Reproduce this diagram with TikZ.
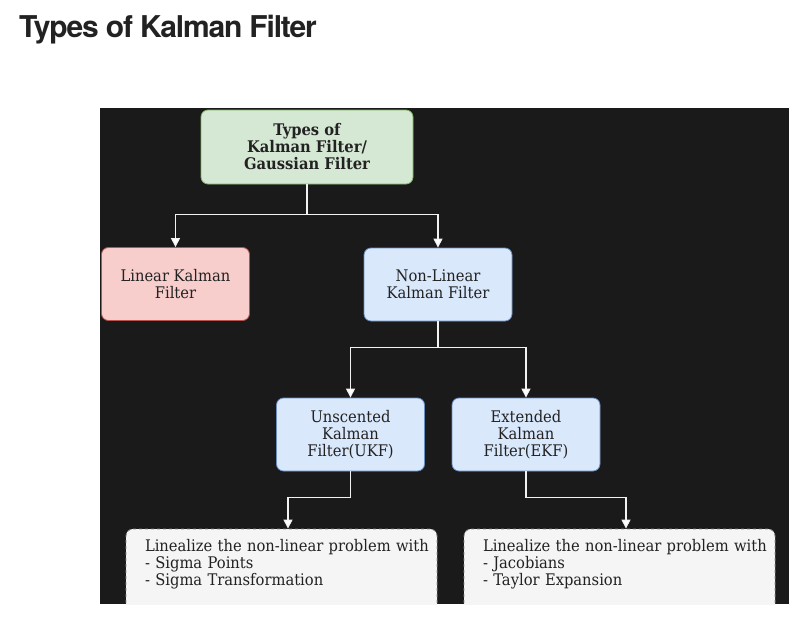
\documentclass[tikz,border=0pt]{standalone}
\usepackage{fontspec}
\usetikzlibrary{arrows.meta}
\setmainfont{DejaVu Serif}[FakeStretch=0.92]
\newfontfamily\headfont{TeX Gyre Heros}[LetterSpace=-4]
\definecolor{boardbg}{HTML}{1A1A1A}
\definecolor{inkdark}{HTML}{222222}
\definecolor{greenfill}{HTML}{D5E8D4}
\definecolor{greenline}{HTML}{82B366}
\definecolor{redfill}{HTML}{F8CECC}
\definecolor{redline}{HTML}{B85450}
\definecolor{bluefill}{HTML}{DAE8FC}
\definecolor{blueline}{HTML}{6C8EBF}
\definecolor{notefill}{HTML}{F5F5F5}
\definecolor{noteline}{HTML}{8A8A8A}
\newcommand{\noteline}[1]{\makebox[\linewidth][l]{#1}}
\tikzset{
	box/.style={draw, rounded corners=7pt, line width=0.8pt, minimum width=148pt,
		minimum height=73pt, align=center, text=inkdark, inner sep=2pt,
		font=\fontsize{16}{17}\selectfont},
	rootbox/.style={box, fill=greenfill, draw=greenline, minimum width=212pt,
		minimum height=74pt, font=\bfseries\fontsize{16}{17}\selectfont},
	linbox/.style={box, fill=redfill, draw=redline},
	nlbox/.style={box, fill=bluefill, draw=blueline},
	notebox/.style={box, fill=notefill, draw=noteline, dashed, minimum width=311pt,
		minimum height=88pt, text width=273pt, align=left},
	link/.style={draw=white!90!gray, line width=1.1pt,
		-{Triangle[length=9pt,width=9pt,fill=white]}}
}
\begin{document}
\begin{tikzpicture}[x=1pt,y=-1pt]
	\fill[white] (0,0) rectangle (811,626);
	\node[anchor=west, inner sep=0, text=inkdark] at (19,30)(title)
		{\headfont\bfseries\fontsize{30}{32}\selectfont Types of Kalman Filter};
	\fill[boardbg] (100,108) rectangle (789,604);
	\begin{scope}
	\clip (100,108) rectangle (789,604);
	\node[rootbox] at (307,147)(gauss){Types of\\Kalman Filter/\\Gaussian Filter};
	\node[linbox] at (175.5,284)(lkf){Linear Kalman\\Filter};
	\node[nlbox] at (438,284.5)(nlkf){Non-Linear\\Kalman Filter};
	\node[nlbox] at (350.5,434.5)(ukf){Unscented\\Kalman\\Filter(UKF)};
	\node[nlbox] at (526,434.5)(ekf){Extended\\Kalman\\Filter(EKF)};
	\node[notebox] at (281.5,573)(ukfnote)
		{\noteline{Linealize the non-linear problem with}\\- Sigma Points\\- Sigma Transformation\\ \strut};
	\node[notebox] at (619.5,573)(ekfnote)
		{\noteline{Linealize the non-linear problem with}\\- Jacobians\\- Taylor Expansion\\ \strut};
	\path[link] (gauss.south) -- ++(0,30) -| (lkf.north);
	\path[link] (gauss.south) -- ++(0,30) -| (nlkf.north);
	\path[link] (nlkf.south) -- ++(0,26) -| (ukf.north);
	\path[link] (nlkf.south) -- ++(0,26) -| (ekf.north);
	\path[link] (ukf.south) -- ++(0,26) -| (ukfnote.north -| 288,0);
	\path[link] (ekf.south) -- ++(0,26) -| (ekfnote.north -| 626,0);
	\end{scope}
\end{tikzpicture}
\end{document}
